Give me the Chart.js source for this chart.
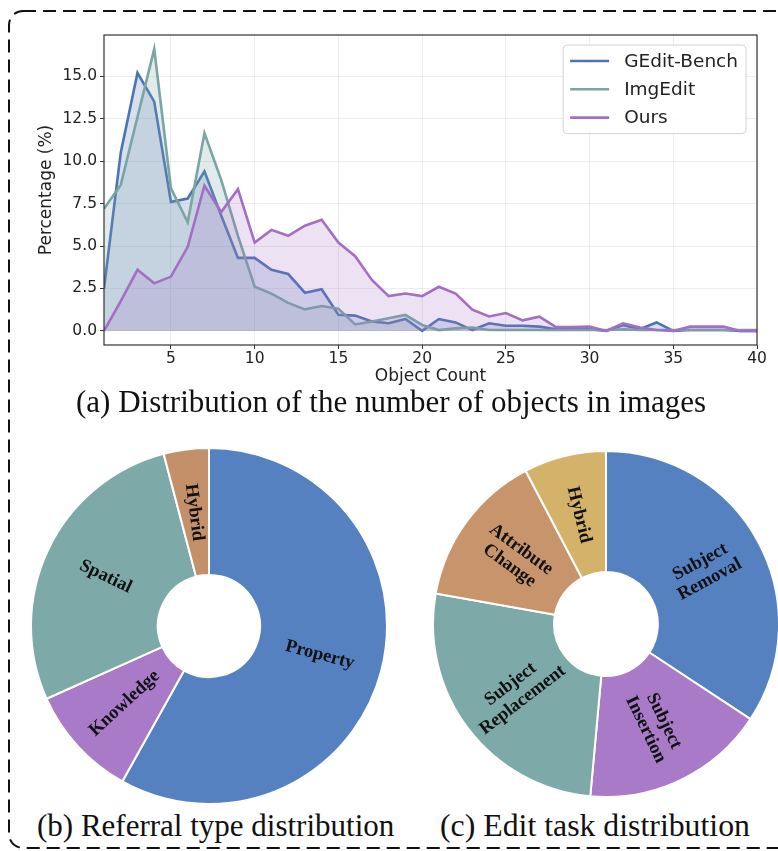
<!DOCTYPE html>
<html><head><meta charset="utf-8">
<script src="https://cdn.jsdelivr.net/npm/chart.js@4.4.1/dist/chart.umd.min.js"></script>
<style>
html,body{margin:0;padding:0;background:#fff;}
#root{position:relative;width:778px;height:851px;overflow:hidden;background:#fff;}
.cap{position:absolute;font-family:"Liberation Serif","Times New Roman",serif;font-size:31px;line-height:31px;white-space:nowrap;color:#111;}
canvas{position:absolute;}
</style></head><body>
<div id="root">
<svg style="position:absolute;left:0;top:0" width="778" height="851"><rect x="9" y="11" width="800" height="837" rx="14" ry="14" fill="none" stroke="#111" stroke-width="2" stroke-dasharray="13 7"/></svg>
<canvas id="lineChart" width="778" height="400" style="left:0;top:0"></canvas>
<canvas id="pieB" width="358" height="358" style="left:30px;top:447px"></canvas>
<canvas id="pieC" width="348" height="348" style="left:432px;top:450px"></canvas>
<div class="cap" style="left:76px;top:386px">(a) Distribution of the number of objects in images</div>
<div class="cap" style="left:37px;top:810px">(b) Referral type distribution</div>
<div class="cap" style="left:440px;top:810px;font-size:31.8px">(c) Edit task distribution</div>
</div>
<script>
// ---------- data ----------
const objectCounts = [1,2,3,4,5,6,7,8,9,10,11,12,13,14,15,16,17,18,19,20,21,22,23,24,25,26,27,28,29,30,31,32,33,34,35,36,37,38,39,40];
const gEditBench = [2.5,10.5,15.2,13.5,7.6,7.8,9.4,6.8,4.3,4.3,3.6,3.35,2.25,2.45,0.95,0.9,0.55,0.45,0.7,0.0,0.7,0.5,0.05,0.45,0.3,0.3,0.25,0.1,0.1,0.1,0.0,0.35,0.1,0.5,0.0,0.05,0.05,0.05,0.0,0.0];
const imgEdit = [7.2,8.6,12.6,16.6,8.4,6.4,11.65,8.9,5.6,2.6,2.2,1.65,1.27,1.47,1.3,0.38,0.55,0.75,0.94,0.35,0.05,0.15,0.2,0.05,0.05,0.05,0.05,0.05,0.05,0.05,0.05,0.1,0.05,0.05,0.05,0.05,0.05,0.05,0.05,0.05];
const ours = [0.0,1.75,3.6,2.8,3.2,4.95,8.55,7.0,8.35,5.2,5.95,5.6,6.2,6.55,5.2,4.4,3.0,2.05,2.2,2.05,2.6,2.2,1.25,0.85,1.05,0.62,0.84,0.22,0.22,0.25,0.0,0.45,0.2,0.05,0.0,0.25,0.25,0.25,0.0,0.0];
const seriesNames = ['GEdit-Bench','ImgEdit','Ours'];
const xTickValues = [5,10,15,20,25,30,35,40];
const yTickValues = [0,2.5,5,7.5,10,12.5,15];

const referralTypes = ['Property','Knowledge','Spatial','Hybrid'];
const referralShares = [58.1,10.2,27.6,4.1];
const editTasks = [['Subject','Removal'],['Subject','Insertion'],['Subject','Replacement'],['Attribute','Change'],['Hybrid']];
const editShares = [34.3,17.2,26.4,14.5,7.7];

// ---------- styles ----------
const lineColors = ['#4c74b4','#79a5a3','#a46ec6'];
const fillColors = ['rgba(76,116,180,0.22)','rgba(121,165,163,0.22)','rgba(164,110,198,0.2)'];
const pieBColors = ['#5681c1','#a87ac8','#7ea9a9','#c4906a'];
const pieCColors = ['#5681c1','#a87ac8','#7ea9a9','#c8946b','#d5b26a'];
Chart.defaults.font.family = '"DejaVu Sans", sans-serif';
Chart.defaults.color = '#222';

const tickFont = {family:'"DejaVu Sans", sans-serif', size:15.5};
const titleFont = {family:'"DejaVu Sans", sans-serif', size:17};

const framePlugin = {
  id:'frame',
  afterDatasetsDraw(chart){
    const {ctx, chartArea:a} = chart;
    ctx.save();
    ctx.strokeStyle = '#333';
    ctx.lineWidth = 1.2;
    ctx.strokeRect(a.left, a.top, a.right - a.left, a.bottom - a.top);
    ctx.restore();
  }
};

const boxLegend = {
  id:'boxLegend',
  afterDraw(chart){
    const {ctx, chartArea:a} = chart;
    ctx.save();
    ctx.font = '18.5px "DejaVu Sans", sans-serif';
    const names = chart.data.datasets.map(d => d.label);
    const tw = Math.max(...names.map(n => ctx.measureText(n).width));
    const pad = 7, handle = 39, gap = 15, rowH = 28.3;
    const w = pad + handle + gap + tw + 8;
    const h = 16 + rowH * (names.length - 1) + 16;
    const x0 = a.right - 11 - w, y0 = a.top + 10;
    ctx.beginPath();
    ctx.roundRect(x0, y0, w, h, 4);
    ctx.fillStyle = 'rgba(255,255,255,0.85)';
    ctx.fill();
    ctx.strokeStyle = '#d4d4d4';
    ctx.lineWidth = 1;
    ctx.stroke();
    chart.data.datasets.forEach((d, i) => {
      const cy = y0 + 16 + rowH * i;
      ctx.beginPath();
      ctx.moveTo(x0 + pad, cy);
      ctx.lineTo(x0 + pad + handle, cy);
      ctx.strokeStyle = d.borderColor;
      ctx.lineWidth = 2.6;
      ctx.stroke();
      ctx.fillStyle = '#222';
      ctx.textBaseline = 'middle';
      ctx.textAlign = 'left';
      ctx.fillText(d.label, x0 + pad + handle + gap, cy + 1);
    });
    ctx.restore();
  }
};

new Chart(document.getElementById('lineChart'), {
  type:'line',
  data:{
    labels: objectCounts,
    datasets:[gEditBench, imgEdit, ours].map((vals, i) => ({
      label: seriesNames[i],
      data: vals,
      borderColor: lineColors[i],
      backgroundColor: fillColors[i],
      borderWidth: 2.6,
      fill: 'origin',
      pointRadius: 0,
      tension: 0,
      order: 3 - i
    }))
  },
  options:{
    responsive:false,
    animation:false,
    layout:{padding:{left:0, top:35, right:21, bottom:0}},
    plugins:{legend:{display:false}, tooltip:{enabled:false}},
    scales:{
      x:{
        type:'linear', min:1, max:40,
        afterBuildTicks: s => { s.ticks = xTickValues.map(v => ({value:v})); },
        afterFit: s => { s.height = 55; },
        grid:{color:'rgba(0,0,0,0.07)', tickColor:'#333', tickLength:4, lineWidth:1},
        border:{display:false},
        ticks:{font:tickFont, color:'#222', padding:1, maxRotation:0, autoSkip:false, callback:v => String(v)},
        title:{display:true, text:'Object Count', font:titleFont, color:'#222', padding:{top:0, bottom:13}}
      },
      y:{
        min:-0.83, max:17.43,
        afterBuildTicks: s => { s.ticks = yTickValues.map(v => ({value:v})); },
        afterFit: s => { s.width = 104; },
        grid:{color:'rgba(0,0,0,0.07)', tickColor:'#333', tickLength:4, lineWidth:1},
        border:{display:false},
        ticks:{font:tickFont, color:'#222', padding:3, callback:v => Number(v).toFixed(1)},
        title:{display:true, text:'Percentage (%)', font:titleFont, color:'#222', padding:{top:36, bottom:0}}
      }
    }
  },
  plugins:[framePlugin, boxLegend]
});

const sliceLabels = {
  id:'sliceLabels',
  afterDatasetsDraw(chart){
    const ctx = chart.ctx;
    const meta = chart.getDatasetMeta(0);
    meta.data.forEach((arc, i) => {
      const p = arc.getProps(['x','y','startAngle','endAngle','innerRadius','outerRadius'], true);
      const mid = (p.startAngle + p.endAngle) / 2;
      const r = (p.innerRadius + p.outerRadius) / 2;
      const px = p.x + Math.cos(mid) * r, py = p.y + Math.sin(mid) * r;
      let rot = Math.atan2(Math.sin(mid), Math.cos(mid));
      if (rot > Math.PI / 2) rot -= Math.PI;
      else if (rot < -Math.PI / 2) rot += Math.PI;
      const lab = chart.data.labels[i];
      const lines = Array.isArray(lab) ? lab : [lab];
      ctx.save();
      ctx.translate(px, py);
      ctx.rotate(rot);
      ctx.font = 'bold 18.5px "Liberation Serif", "Times New Roman", serif';
      ctx.fillStyle = '#111';
      ctx.textAlign = 'center';
      ctx.textBaseline = 'middle';
      const lh = 20;
      lines.forEach((t, k) => {
        ctx.fillText(t, 0, (k - (lines.length - 1) / 2) * lh);
      });
      ctx.restore();
    });
  }
};

function donut(id, labels, values, colors, cutout){
  new Chart(document.getElementById(id), {
    type:'doughnut',
    data:{labels, datasets:[{data:values, backgroundColor:colors, borderColor:'#ffffff', borderWidth:2}]},
    options:{
      responsive:false, animation:false, cutout,
      layout:{padding:0},
      plugins:{legend:{display:false}, tooltip:{enabled:false}}
    },
    plugins:[sliceLabels]
  });
}
donut('pieB', referralTypes, referralShares, pieBColors, '28.7%');
donut('pieC', editTasks, editShares, pieCColors, '30%');
</script>
</body></html>
